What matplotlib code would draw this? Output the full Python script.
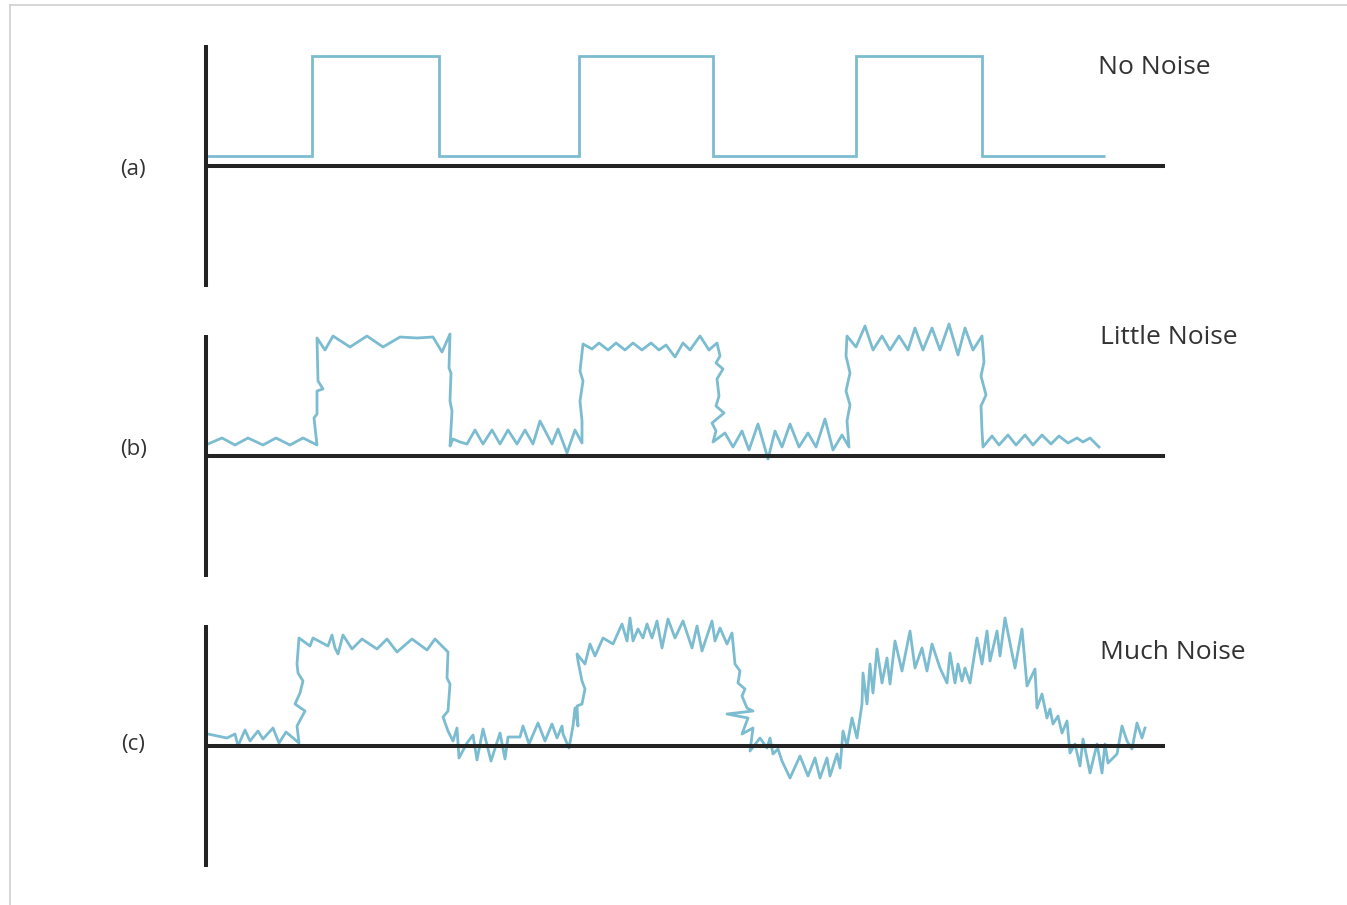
import matplotlib
matplotlib.use("Agg")
import matplotlib.pyplot as plt
from matplotlib.lines import Line2D
import matplotlib.transforms as mtransforms

# time axis runs 0..959, amplitude -121..121 (baseline at 0)
# (a) no noise: square wave edges and levels
clean_edges = [0, 106, 233, 373, 507, 650, 776, 899]
clean_levels = [10, 110, 10, 110, 10, 110, 10]

# (b) little noise
little_t = [2, 16, 29, 42, 57, 70, 84, 97, 111,
            108, 111, 111, 117, 112, 111,
            119, 127, 144, 161, 177, 194, 211, 227, 236, 244,
            243, 245, 244, 246, 244,
            247, 254, 261, 269, 277, 286, 294, 302, 311, 319, 327, 334, 346, 352, 361, 369, 376,
            376, 374, 377, 374, 377,
            386, 393, 402, 410, 419, 427, 436, 445, 453, 460, 469, 477, 484, 494, 503, 511,
            514, 510, 517, 511, 513, 510, 518, 506, 510, 507,
            519, 527, 536, 543, 552, 562, 569, 576, 584, 593, 602, 610, 619, 627, 636, 643,
            641, 644, 640, 644, 640, 641,
            650, 659, 667, 676, 684, 693, 702, 709, 717, 726, 734, 743, 752, 759, 767, 776,
            778, 775, 780, 775, 776, 777,
            786, 793, 802, 810, 819, 827, 836, 845, 853, 862, 871, 877, 884, 893]
little_v = [12, 18, 11, 18, 11, 18, 11, 18, 11,
            38, 42, 65, 67, 75, 118,
            106, 120, 109, 120, 109, 119, 118, 119, 104, 122,
            88, 83, 55, 45, 10,
            17, 14, 12, 26, 12, 26, 12, 26, 12, 26, 12, 35, 12, 27, 3, 26, 13,
            35, 55, 75, 85, 112,
            107, 113, 106, 113, 106, 113, 106, 113, 106, 111, 99, 113, 106, 120, 106, 113,
            100, 93, 87, 77, 60, 50, 43, 33, 25, 14,
            23, 9, 25, 6, 32, -3, 25, 9, 32, 9, 23, 9, 37, 6, 21, 9,
            35, 51, 65, 83, 100, 120,
            109, 130, 106, 120, 106, 120, 106, 128, 106, 128, 106, 132, 101, 128, 106, 120,
            94, 80, 61, 50, 25, 9,
            20, 11, 21, 11, 21, 11, 21, 12, 20, 13, 18, 14, 18, 9]

# (c) much noise
much_t = [2, 21, 29, 32, 39, 44, 52, 57, 67, 73, 80, 93,
          91, 99, 89, 94, 97, 92, 91, 93,
          104, 107, 122, 126, 129, 132, 137, 146, 156, 171, 181, 191, 206, 221, 229, 242,
          241, 244, 242, 237, 242, 247,
          251, 253, 261, 267, 271, 277, 285, 294, 299, 302, 314, 317, 323, 332, 339, 346, 351, 356, 357, 363,
          367, 369, 372, 371, 376, 379, 376, 372, 371, 379, 384, 389, 397, 407, 416, 421, 424, 427, 432,
          437, 441, 446, 451,
          456, 462, 469, 477, 486, 491, 496, 506, 509, 514, 521, 526,
          529, 534, 532, 539, 536, 541, 547, 521, 542, 536, 547, 544, 554, 561, 564, 567, 572, 576, 584,
          594, 602, 609, 614, 621, 624, 631, 634,
          637, 641, 646, 651, 656, 657, 661, 664, 667, 671, 676, 681, 684, 689, 696, 704, 709, 716, 721,
          726, 734, 741, 744, 749, 752, 756, 759, 764, 771, 776, 781, 784, 791, 794, 799, 809, 816, 821,
          829, 831, 836, 841, 844, 847, 852, 856, 861, 864, 869, 874, 877, 884, 891, 896, 899, 902, 911,
          916, 921, 926, 931, 936, 939]
much_v = [12, 8, 12, 0, 16, 5, 15, 7, 18, 3, 14, 3,
          20, 35, 42, 53, 65, 73, 82, 108,
          100, 108, 100, 111, 98, 92, 111, 97, 107, 97, 107, 94, 107, 96, 107, 94,
          68, 62, 35, 29, 15, 5,
          18, -12, 3, 11, -14, 17, -15, 13, -13, 9, 9, 20, 2, 23, 5, 22, 8, 20, 12, -2,
          20, 38, 20, 40, 42, 57, 65, 85, 92, 82, 102, 90, 108, 102, 122, 105, 128, 105, 117,
          108, 122, 108, 125,
          98, 127, 108, 125, 98, 120, 95, 125, 105, 118, 102, 113,
          82, 75, 63, 57, 50, 38, 35, 32, 28, 12, 18, -5, 8, -2, 8, -8, -3, -15, -32,
          -10, -30, -12, -32, -12, -30, -8, -22,
          15, 0, 28, 8, 42, 73, 42, 82, 53, 97, 63, 88, 62, 105, 75, 115, 78, 98, 75,
          102, 78, 63, 93, 63, 82, 65, 78, 63, 108, 82, 115, 85, 115, 90, 128, 78, 117, 60,
          77, 38, 52, 28, 37, 22, 30, 13, 25, -7, 2, -20, 7, -27, 2, -27, 2, -17, -8,
          20, 5, -3, 23, 8, 18]

labels = ["(a)", "(b)", "(c)"]
label_y = [-3, 6, 2]
titles = ["No Noise", "Little Noise", "Much Noise"]
title_x = [0.930, 0.932, 0.932]
title_y = [98, 118, 94]

signal_color = "#7bbcd0"
axis_color = "#232323"
text_color = "#333333"
font = ["Open Sans", "DejaVu Sans"]

W, H = 1347, 905
fig = plt.figure(figsize=(W / 100, H / 100), dpi=100)

panel_tops = [45, 335, 625]
axes = []
for top in panel_tops:
    ax = fig.add_axes([206 / W, 1 - (top + 242) / H, 959 / W, 242 / H])
    ax.set_xlim(0, 959)
    ax.set_ylim(-121, 121)
    ax.spines["top"].set_visible(False)
    ax.spines["right"].set_visible(False)
    ax.spines["bottom"].set_position(("data", 0))
    for s in ["left", "bottom"]:
        ax.spines[s].set_color(axis_color)
        ax.spines[s].set_linewidth(2.9)
        ax.spines[s].set_capstyle("butt")
    ax.set_xticks([])
    ax.set_yticks([])
    ax.patch.set_alpha(0)
    axes.append(ax)

axes[0].stairs(clean_levels, clean_edges, baseline=None, color=signal_color, lw=2.0)
axes[1].plot(little_t, little_v, color=signal_color, lw=2.0, clip_on=False)
axes[2].plot(much_t, much_v, color=signal_color, lw=2.0, clip_on=False)

for i, ax in enumerate(axes):
    trans = mtransforms.blended_transform_factory(ax.transAxes, ax.transData)
    ax.text(-0.076, label_y[i], labels[i], transform=trans, ha="center", va="center",
            fontsize=16, color=text_color, family=font)
    ax.text(title_x[i], title_y[i], titles[i], transform=trans, ha="left", va="center",
            fontsize=19, color=text_color, family=font)

# thin grey frame along top and left edge
fig.add_artist(Line2D([10 / W, 1], [1 - 5 / H, 1 - 5 / H], color="#cfcfcf", lw=1.2))
fig.add_artist(Line2D([10 / W, 10 / W], [0, 1 - 5 / H], color="#cfcfcf", lw=1.2))

fig.savefig("out.png", dpi=100)
